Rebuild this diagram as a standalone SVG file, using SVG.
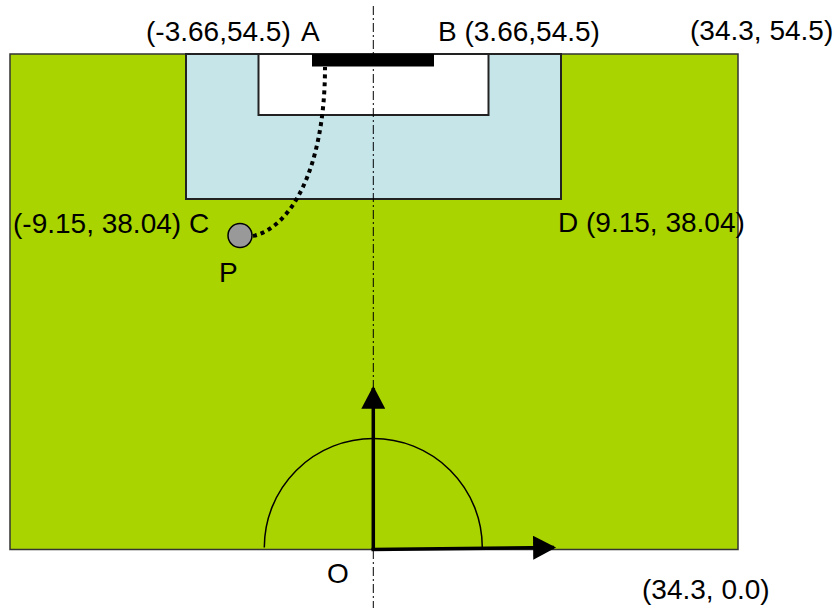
<svg xmlns="http://www.w3.org/2000/svg" width="838" height="608" viewBox="0 0 838 608">
<style>
text{font-family:"Liberation Sans",Arial,sans-serif;font-size:28px;fill:#000}
.ln{fill:none;stroke:#000}
</style>
<defs>
<marker id="ah" markerUnits="userSpaceOnUse" markerWidth="24" markerHeight="24" viewBox="0 0 22 23" refX="20" refY="11.5" orient="auto">
<path d="M0,0 L22,11.5 L0,23 Z" fill="#000"/>
</marker>
</defs>
<rect width="838" height="608" fill="#fff"/>
<g id="field">
<rect x="10" y="54" width="728" height="495.5" fill="#aad400" stroke="#333" stroke-width="1.5"/>
</g>
<g id="penalty-area">
<rect x="186" y="54" width="375" height="145" fill="#c6e5e9" stroke="#222" stroke-width="2"/>
</g>
<g id="goal-area">
<rect x="258.5" y="54" width="230" height="61" fill="#fff" stroke="#222" stroke-width="2"/>
</g>
<g id="goal">
<rect x="312" y="54" width="122" height="12.5" fill="#000"/>
</g>
<g id="center-arc">
<path class="ln" d="M264.3,547.5 A109,109 0 0 1 482.3,547.5" stroke-width="1.5"/>
</g>
<g id="ball">
<circle cx="240" cy="235.5" r="12" fill="#999" stroke="#000" stroke-width="1.5"/>
</g>
<g id="connectors">
<line class="ln" x1="373.3" y1="6" x2="373.3" y2="608" stroke-width="1" stroke-dasharray="9 3 2 3"/>
<path class="ln" d="M253,236 C290,228 325,170 325,67" stroke-width="4" stroke-dasharray="4 4"/>
<line class="ln" x1="373.3" y1="550" x2="373.3" y2="388" stroke-width="3.5" marker-end="url(#ah)"/>
<line class="ln" x1="371.5" y1="549.5" x2="554" y2="547.5" stroke-width="3.5" marker-end="url(#ah)"/>
</g>
<g id="labels">
<text x="146" y="41" word-spacing="4">(-3.66,54.5) A</text>
<text x="438" y="41">B (3.66,54.5)</text>
<text x="690" y="40">(34.3, 54.5)</text>
<text x="13" y="233">(-9.15, 38.04) C</text>
<text x="558" y="232">D (9.15, 38.04)</text>
<text x="219" y="282">P</text>
<text x="327" y="583">O</text>
<text x="642" y="599">(34.3, 0.0)</text>
</g>
</svg>
